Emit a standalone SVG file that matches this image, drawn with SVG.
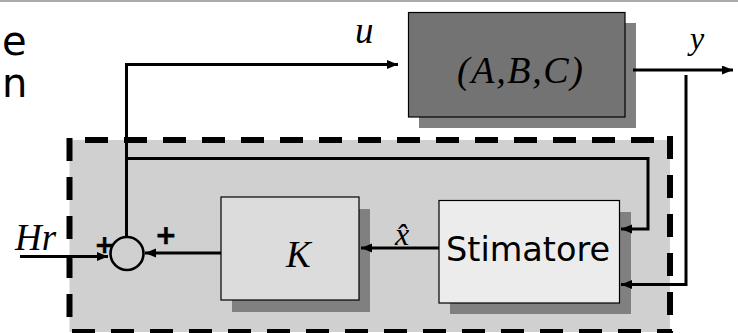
<svg xmlns="http://www.w3.org/2000/svg" width="738" height="333" viewBox="0 0 738 333">
<style>
.sans{font-family:"DejaVu Sans","Liberation Sans",sans-serif;fill:#000}
.m{font-family:"Liberation Serif","Times New Roman",serif;font-style:italic;fill:#000}
.box{stroke:#000;stroke-width:1.2}
.shadow{fill:#808080}
.wire{fill:none;stroke:#000;stroke-width:3}
.dash{fill:none;stroke:#000;stroke-width:6;stroke-dasharray:23 16}
.plus{font-family:"DejaVu Sans",sans-serif;font-weight:bold;text-anchor:middle;fill:#000;stroke:#000;stroke-width:0.6}
</style>
<defs>
<marker id="arr" markerUnits="userSpaceOnUse" markerWidth="12" markerHeight="10" refX="11" refY="4.5" orient="auto">
<path d="M0,0 L11,4.5 L0,9 z" fill="#000"/>
</marker>
</defs>
<rect width="738" height="333" fill="#fff"/>
<line x1="0" y1="1" x2="738" y2="1" stroke="#aaaaaa" stroke-width="2"/>
<text class="sans" x="2" y="55" font-size="40">e</text>
<text class="sans" x="2" y="97" font-size="40">n</text>

<g id="observer-region">
<rect x="69.5" y="140" width="600.5" height="192" fill="#d0d0d0"/>
<line class="dash" x1="85" y1="140" x2="670" y2="140"/>
<line class="dash" x1="69.5" y1="138" x2="69.5" y2="333"/>
<line class="dash" x1="670" y1="136" x2="670" y2="333"/>
<line class="dash" x1="72" y1="332" x2="672" y2="332"/>
</g>

<g id="plant">
<rect class="shadow" x="419" y="23" width="217" height="105"/>
<rect class="box" x="408.5" y="12.5" width="216.5" height="104.5" fill="#737373"/>
<text class="m" x="457" y="83" font-size="38" textLength="126" lengthAdjust="spacing">(A,B,C)</text>
</g>

<g id="gain">
<rect class="shadow" x="232" y="209" width="138" height="103"/>
<rect class="box" x="221" y="197" width="138" height="103" fill="#dcdcdc"/>
<text class="m" x="286" y="267" font-size="37">K</text>
</g>

<g id="estimator">
<rect class="shadow" x="450" y="212" width="181" height="102"/>
<rect class="box" x="439" y="200.5" width="180.5" height="102.5" fill="#ececec"/>
<text class="sans" x="446" y="261" font-size="33.5">Stimatore</text>
</g>

<g id="sum">
<circle cx="127" cy="253.5" r="16.5" fill="none" stroke="#000" stroke-width="2.6"/>
<text class="plus" x="104.5" y="253" font-size="24">+</text>
<text class="plus" x="166" y="243.5" font-size="26">+</text>
</g>

<g id="connectors">
<path class="wire" d="M126.5,237 V64.5 H398" marker-end="url(#arr)"/>
<path class="wire" d="M126.5,158.5 H648 V229 H621" marker-end="url(#arr)"/>
<path class="wire" d="M633,70 H733" marker-end="url(#arr)"/>
<path class="wire" d="M686,75 V284.5 H621" marker-end="url(#arr)"/>
<path class="wire" d="M439,248 H361" marker-end="url(#arr)"/>
<path class="wire" d="M221,253 H145" marker-end="url(#arr)"/>
<path class="wire" d="M20,256.5 H108" marker-end="url(#arr)"/>
</g>

<g id="labels">
<text class="m" x="355" y="43" font-size="37">u</text>
<text class="m" x="690" y="49" font-size="32">y</text>
<text class="m" x="15" y="250" font-size="37">Hr</text>
<text class="m" x="395" y="245" font-size="32">x̂</text>
</g>
</svg>
